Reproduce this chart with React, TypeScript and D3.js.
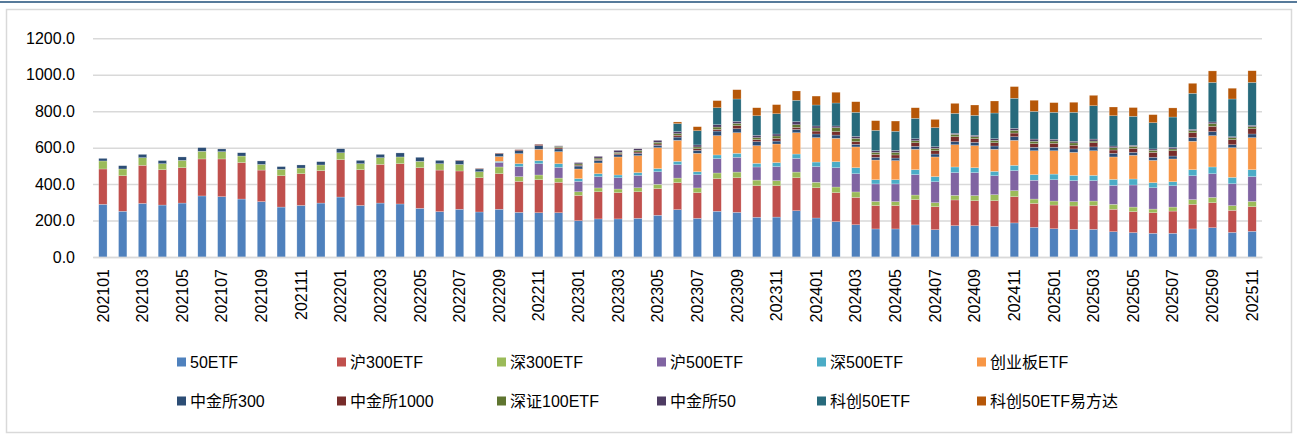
import { useRef, useEffect } from 'react'
import { select, scaleBand, scaleLinear, stack, axisLeft, axisBottom } from 'd3'

const months = [
  '202101', '202102', '202103', '202104', '202105', '202106', '202107', '202108', '202109', '202110', '202111', '202112',
  '202201', '202202', '202203', '202204', '202205', '202206', '202207', '202208', '202209', '202210', '202211', '202212',
  '202301', '202302', '202303', '202304', '202305', '202306', '202307', '202308', '202309', '202310', '202311', '202312',
  '202401', '202402', '202403', '202404', '202405', '202406', '202407', '202408', '202409', '202410', '202411', '202412',
  '202501', '202502', '202503', '202504', '202505', '202506', '202507', '202508', '202509', '202510', '202511',
]

const seriesNames = [
  '50ETF', '沪300ETF', '深300ETF', '沪500ETF', '深500ETF', '创业板ETF',
  '中金所300', '中金所1000', '深证100ETF', '中金所50', '科创50ETF', '科创50ETF易方达',
]

const colors = [
  '#4F81BD', '#C0504D', '#9BBB59', '#8064A2', '#4BACC6', '#F79646',
  '#2C4D75', '#772C2A', '#5F7530', '#4D3B62', '#276A7C', '#B65708',
]

const etf50 = [
  289, 251, 294, 285, 296, 335, 331, 318, 304, 274, 283, 296,
  329, 283, 296, 291, 267, 249, 262, 247, 262, 245, 243, 243,
  199, 209, 209, 212, 229, 260, 212, 251, 245, 218, 219, 254,
  214, 194, 177, 154, 154, 176, 150, 172, 172, 168, 187, 163,
  155, 152, 152, 139, 134, 130, 130, 154, 161, 135, 141,
]
const hu300 = [
  194, 195, 209, 194, 194, 203, 207, 200, 173, 172, 174, 178,
  205, 196, 212, 221, 223, 228, 210, 188, 195, 170, 181, 167,
  139, 149, 144, 146, 146, 148, 141, 179, 190, 173, 172, 181,
  166, 159, 150, 128, 128, 139, 126, 141, 137, 141, 144, 131,
  130, 128, 131, 123, 115, 113, 122, 135, 137, 121, 135,
]
const shen300 = [
  44, 37, 42, 33, 40, 42, 40, 36, 31, 35, 31, 31,
  38, 33, 37, 37, 35, 35, 36, 33, 37, 26, 26, 23,
  20, 21, 20, 22, 24, 25, 26, 31, 31, 31, 28, 31,
  30, 31, 30, 23, 22, 25, 22, 25, 28, 33, 33, 24,
  22, 24, 24, 27, 25, 20, 22, 26, 29, 26, 29,
]
const hu500 = [
  0, 0, 0, 0, 0, 0, 0, 0, 0, 0, 0, 0,
  0, 0, 0, 0, 0, 0, 0, 0, 25, 55, 62, 59,
  57, 62, 62, 68, 69, 74, 73, 79, 81, 72, 77, 75,
  86, 106, 100, 96, 97, 112, 115, 125, 126, 104, 110, 103,
  117, 115, 112, 104, 121, 117, 117, 131, 130, 120, 136,
]
const shen500 = [
  0, 0, 0, 0, 0, 0, 0, 0, 0, 0, 0, 0,
  0, 0, 0, 0, 0, 0, 0, 0, 6, 16, 17, 20,
  15, 16, 15, 15, 17, 18, 16, 20, 22, 20, 22, 24,
  25, 33, 33, 23, 23, 27, 28, 31, 27, 24, 29, 31,
  31, 29, 29, 33, 33, 28, 22, 33, 37, 35, 38,
]
const cyb = [
  0, 0, 0, 0, 0, 0, 0, 0, 0, 0, 0, 0,
  0, 0, 0, 0, 0, 0, 0, 0, 26, 55, 62, 66,
  53, 59, 99, 93, 115, 115, 101, 106, 113, 97, 102, 117,
  134, 128, 114, 108, 105, 112, 108, 122, 121, 121, 137, 131,
  128, 126, 135, 123, 130, 122, 125, 156, 172, 163, 176,
]
const cffex300 = [
  14, 18, 18, 17, 19, 20, 15, 18, 19, 15, 17, 18,
  22, 18, 18, 22, 22, 18, 21, 15, 16, 16, 20, 15,
  16, 14, 12, 13, 13, 18, 16, 25, 22, 22, 16, 18,
  20, 18, 14, 15, 14, 16, 16, 17, 18, 18, 20, 19,
  19, 19, 21, 20, 16, 17, 16, 20, 22, 16, 20,
]
const cffex1000 = [
  0, 0, 0, 0, 0, 0, 0, 0, 0, 0, 0, 0,
  0, 0, 0, 0, 0, 0, 2, 3, 3, 6, 7, 7,
  5, 6, 6, 7, 7, 10, 9, 9, 17, 11, 15, 11,
  16, 19, 15, 16, 17, 20, 18, 27, 20, 18, 20, 20,
  22, 20, 23, 18, 22, 27, 29, 27, 29, 28, 29,
]
const shen100 = [
  0, 0, 0, 0, 0, 0, 0, 0, 0, 0, 0, 0,
  0, 0, 0, 0, 0, 0, 0, 0, 0, 0, 0, 7,
  7, 7, 7, 9, 9, 9, 10, 13, 12, 11, 13, 15,
  17, 22, 18, 11, 14, 11, 13, 13, 11, 13, 15, 13,
  12, 13, 9, 13, 11, 11, 10, 11, 15, 11, 11,
]
const cffex50 = [
  0, 0, 0, 0, 0, 0, 0, 0, 0, 0, 0, 0,
  0, 0, 0, 0, 0, 0, 0, 0, 0, 0, 0, 3,
  7, 9, 11, 9, 11, 11, 11, 13, 11, 13, 11, 17,
  11, 9, 11, 9, 11, 11, 9, 6, 8, 9, 11, 12,
  10, 9, 11, 9, 6, 8, 9, 7, 9, 5, 7,
]
const kc50 = [
  0, 0, 0, 0, 0, 0, 0, 0, 0, 0, 0, 0,
  0, 0, 0, 0, 0, 0, 0, 0, 0, 0, 0, 0,
  0, 0, 0, 0, 0, 44, 78, 93, 123, 107, 111, 117,
  115, 126, 132, 112, 105, 112, 105, 109, 109, 141, 165, 152,
  148, 159, 183, 166, 159, 144, 166, 198, 217, 207, 236,
]
const kc50Efd = [
  0, 0, 0, 0, 0, 0, 0, 0, 0, 0, 0, 0,
  0, 0, 0, 0, 0, 0, 0, 0, 0, 0, 0, 0,
  0, 0, 0, 0, 0, 9, 22, 39, 51, 44, 50, 51,
  49, 59, 58, 53, 56, 58, 45, 55, 57, 66, 64, 61,
  53, 55, 57, 48, 48, 44, 50, 55, 63, 59, 64,
]

const seriesValues = [etf50, hu300, shen300, hu500, shen500, cyb, cffex300, cffex1000, shen100, cffex50, kc50, kc50Efd]

const yTicks = [0, 200, 400, 600, 800, 1000, 1200]

const FONT = "'Liberation Sans', 'Noto Sans CJK SC', sans-serif"

const App = () => {
  const svgRef = useRef<SVGSVGElement>(null)

  useEffect(() => {
    const svg = select(svgRef.current)
    svg.selectAll('*').remove()

    const width = 1297
    const height = 437
    const plot = { left: 93, right: 1262, top: 38.3, bottom: 257 }

    // background, top rule, chart frame
    svg.append('rect').attr('width', width).attr('height', height).attr('fill', '#fff')
    svg.append('line')
      .attr('x1', 0).attr('x2', width).attr('y1', 2).attr('y2', 2)
      .attr('stroke', '#1F4E79').attr('stroke-width', 1.5)
    svg.append('rect')
      .attr('x', 6.5).attr('y', 9.5).attr('width', 1285).attr('height', 423)
      .attr('fill', 'none').attr('stroke', '#d9d9d9').attr('stroke-width', 1.5)

    const rows = months.map((m, i) => {
      const row: Record<string, any> = { month: m }
      seriesNames.forEach((s, k) => (row[s] = seriesValues[k][i]))
      return row
    })

    const xScale = scaleBand<string>()
      .domain(months)
      .range([plot.left, plot.right])
      .paddingInner(0.58)
      .paddingOuter(0.29)

    const yScale = scaleLinear().domain([0, 1200]).range([plot.bottom, plot.top])

    // gridlines + y labels
    const yAxisGroup = svg.append('g')
      .attr('transform', `translate(${plot.left},0)`)
      .call(
        axisLeft(yScale)
          .tickValues(yTicks)
          .tickSize(-(plot.right - plot.left))
          .tickPadding(18)
          .tickFormat((d) => (+d).toFixed(1))
      )
    yAxisGroup.select('.domain').remove()
    yAxisGroup.selectAll('.tick line').attr('stroke', '#d9d9d9').attr('stroke-width', 1.5)
    yAxisGroup.selectAll('.tick text')
      .attr('font-family', FONT).attr('font-size', 16).attr('fill', '#000')

    const stacked = stack<any>().keys(seriesNames)(rows)

    svg.append('g')
      .selectAll('g')
      .data(stacked)
      .join('g')
      .attr('fill', (_d, i) => colors[i])
      .selectAll('rect')
      .data((d) => d)
      .join('rect')
      .attr('x', (d: any) => xScale(d.data.month) as number)
      .attr('width', xScale.bandwidth())
      .attr('y', (d: any) => yScale(d[1]))
      .attr('height', (d: any) => yScale(d[0]) - yScale(d[1]))
      .attr('stroke', 'rgba(255,255,255,0.45)')
      .attr('stroke-width', 0.5)

    // x axis labels every other month
    const xAxisGroup = svg.append('g')
      .attr('transform', `translate(0,${plot.bottom})`)
      .call(
        axisBottom(xScale)
          .tickValues(months.filter((_m, i) => i % 2 === 0))
          .tickSize(0)
          .tickPadding(0)
      )
    xAxisGroup.select('.domain').attr('stroke', '#d9d9d9').attr('stroke-width', 1.5)
    xAxisGroup.selectAll('.tick text')
      .attr('font-family', FONT).attr('font-size', 16).attr('fill', '#000')
      .attr('text-anchor', 'end')
      .attr('transform', 'rotate(-90)')
      .attr('x', -12).attr('y', 0).attr('dy', '0.35em')

    // legend, 2 rows of 6
    const legend = svg.append('g')
    seriesNames.forEach((name, i) => {
      const col = i % 6
      const row = Math.floor(i / 6)
      const lx = 177 + col * 160
      const ly = 362 + row * 39
      legend.append('rect')
        .attr('x', lx).attr('y', ly - 4.5).attr('width', 9).attr('height', 9)
        .attr('fill', colors[i])
      legend.append('text')
        .attr('x', lx + 13).attr('y', ly).attr('dy', '0.35em')
        .attr('font-family', FONT).attr('font-size', 16).attr('fill', '#000')
        .text(name)
    })
  }, [])

  return (
    <div style={{ position: 'absolute', left: 0, top: 0 }}>
      <svg width="1297" height="437" ref={svgRef} style={{ display: 'block' }}></svg>
    </div>
  )
}

export default App
